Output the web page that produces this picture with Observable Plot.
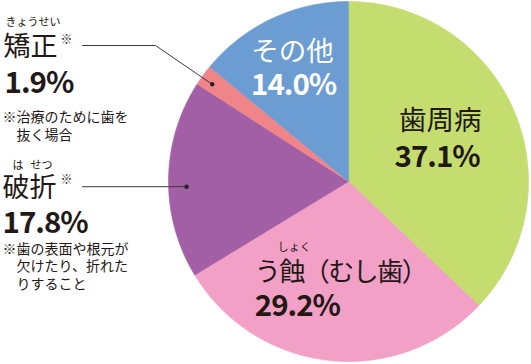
<!DOCTYPE html>
<html><head><meta charset="utf-8">
<script src="https://cdn.jsdelivr.net/npm/d3@7"></script>
<script src="https://cdn.jsdelivr.net/npm/@observablehq/plot@0.6"></script>
<style>
body{margin:0;background:#fff}
</style></head><body><div id="chart"></div>
<script>
// ---- data ----
const categories = ["歯周病", "う蝕（むし歯）", "破折", "矯正", "その他"];
const values = [37.1, 29.2, 17.8, 1.9, 14.0];
const sliceColors = ["#c5dc6e", "#f2a0c6", "#a35fa6", "#ef8489", "#6b9dd3"];
const notes = {
  "矯正": ["※治療のために歯を", "抜く場合"],
  "破折": ["※歯の表面や根元が", "欠けたり、折れた", "りすること"]
};
const ruby = {"矯正": "きょうせい", "う蝕（むし歯）": "しょく", "破折": ["は", "せつ"]};

// ---- geometry from data ----
const total = d3.sum(values);
let acc = 0;
const slices = categories.map((c, i) => {
  const a0 = acc / total * 2 * Math.PI; acc += values[i];
  const a1 = acc / total * 2 * Math.PI;
  return {c, v: values[i], a0, a1, mid: (a0 + a1) / 2, pct: values[i].toFixed(1) + "%"};
});
const R = 180;
const pt = (a, r) => ({x: r * Math.sin(a), y: r * Math.cos(a)});
const poly = slices.flatMap(s => {
  const n = Math.max(4, Math.ceil((s.a1 - s.a0) / (Math.PI / 360)));
  const pts = [{x: 0, y: 0, c: s.c}];
  for (let k = 0; k <= n; k++) pts.push({...pt(s.a0 + (s.a1 - s.a0) * k / n, R), c: s.c});
  pts.push({x: 0, y: 0, c: s.c});
  return pts;
});
const S = Object.fromEntries(slices.map(s => [s.c, s]));
const centroid = (name, k) => ({...pt(S[name].mid, R * k), s: S[name]});
const within = (name, f, k) => { const s = S[name]; return pt(s.a0 + (s.a1 - s.a0) * f, R * k); };

const dotKyo = within("矯正", 0.4, 0.93);
const dotHa = within("破折", 0.46, 0.9);
const leaderKyo = [{x: -266, y: 136}, {x: -193, y: 136}, dotKyo];
const leaderHa = [{x: -266, y: dotHa.y}, dotHa];

const dark = "#231815";
const num = {fontWeight: 700, fontSize: 29.5};
const tl = (txt, dx, dy, o = {}) => Plot.text([txt], {text: d => d, frameAnchor: "top-left", textAnchor: "start", lineAnchor: "middle", dx, dy, fill: dark, ...o});

const cS = centroid("歯周病", 0.56);
const cU = centroid("う蝕（むし歯）", 0.56);
const cO = centroid("その他", 0.69);

const chart = Plot.plot({
  width: 531, height: 364, margin: 0,
  x: {domain: [-348, 183], range: [0, 531], axis: null},
  y: {domain: [-183, 181], range: [364, 0], axis: null},
  color: {domain: categories, range: sliceColors},
  style: {fontFamily: "'Noto Sans CJK JP', 'Noto Sans', sans-serif", background: "#fff"},
  marks: [
    Plot.line(poly, {x: "x", y: "y", z: "c", fill: "c", stroke: "c", strokeWidth: 0.6, curve: "linear"}),
    Plot.line(leaderKyo, {x: "x", y: "y", stroke: "#3a3a3a", strokeWidth: 1}),
    Plot.line(leaderHa, {x: "x", y: "y", stroke: "#3a3a3a", strokeWidth: 1}),
    Plot.dot([dotKyo, dotHa], {x: "x", y: "y", r: 2.2, fill: "#222"}),
    // inside labels
    Plot.text([cS], {x: "x", y: "y", text: d => d.s.c, dy: -21, dx: -1, fontSize: 27.5, fill: dark}),
    Plot.text([cS], {x: "x", y: "y", text: d => d.s.pct, dy: 16, dx: -4, fill: dark, ...num}),
    Plot.text([cO], {x: "x", y: "y", text: d => d.s.c, dy: -17, dx: -3, fontSize: 27.5, fill: "#fff"}),
    Plot.text([cO], {x: "x", y: "y", text: d => d.s.pct, dy: 16, dx: -2, fill: "#fff", ...num}),
    Plot.text([cU], {x: "x", y: "y", text: d => d.s.c, dy: -9, dx: -83, textAnchor: "start", fontSize: 26, fill: dark}),
    Plot.text([cU], {x: "x", y: "y", text: () => ruby["う蝕（むし歯）"], dy: -34, dx: -60, textAnchor: "start", fontSize: 11, fill: dark}),
    Plot.text([cU], {x: "x", y: "y", text: d => d.s.pct, dy: 25, dx: -83, textAnchor: "start", fill: dark, ...num}),
    // outside: 矯正
    tl(ruby["矯正"], 5, 22, {fontSize: 11}),
    tl("矯正", 3, 47, {fontSize: 27}),
    tl("※", 60, 40, {fontSize: 12}),
    tl(S["矯正"].pct, 4, 83, num),
    tl(notes["矯正"][0], 2, 117, {fontSize: 14}),
    tl(notes["矯正"][1], 16, 135, {fontSize: 14}),
    // outside: 破折
    tl(ruby["破折"][0], 12, 165, {fontSize: 11}),
    tl(ruby["破折"][1], 30, 165, {fontSize: 11}),
    tl("破折", 2, 188, {fontSize: 27}),
    tl("※", 60, 180, {fontSize: 12}),
    tl(S["破折"].pct, 2, 223, num),
    tl(notes["破折"][0], 2, 249, {fontSize: 14}),
    tl(notes["破折"][1], 16, 266, {fontSize: 14}),
    tl(notes["破折"][2], 16, 284, {fontSize: 14})
  ]
});
d3.select(chart).selectAll("text").filter(function() { return /%$/.test(this.textContent); })
  .style("font-feature-settings", '"pnum"').style("letter-spacing", "-1px");
d3.select(chart).selectAll("text").filter(function() { return this.textContent === "う蝕（むし歯）"; })
  .style("letter-spacing", "-1.5px");
document.getElementById("chart").append(chart);
</script></body></html>
